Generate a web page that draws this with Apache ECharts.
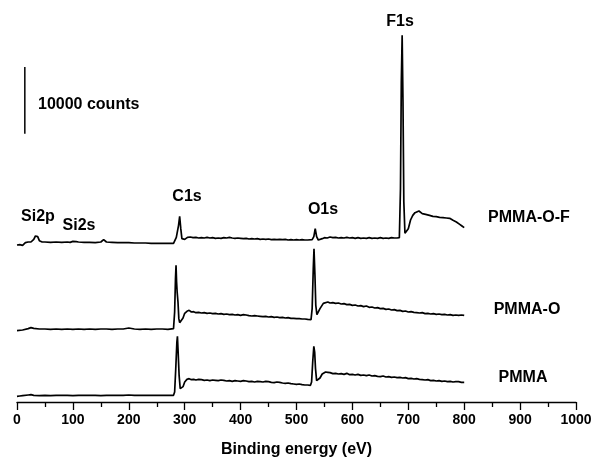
<!DOCTYPE html>
<html>
<head>
<meta charset="utf-8">
<script src="https://cdn.jsdelivr.net/npm/echarts@6/dist/echarts.min.js"></script>
<style>
  html, body { margin: 0; padding: 0; background: #fff; }
  #chart { width: 600px; height: 465px; }
</style>
</head>
<body>
<div id="chart"></div>
<script>
// spectra, offset as drawn: [binding energy (eV), counts]
const pmma = [
  [0, 850], [5, 900], [10, 950], [20, 1050], [25, 1100], [30, 1000], [40, 950], [50, 1000],
  [60, 970], [70, 1000], [80, 980], [90, 1000], [100, 970], [110, 1000], [120, 980], [130, 1000],
  [140, 990], [150, 970], [160, 1000], [170, 980], [180, 1000], [190, 990], [200, 1050], [210, 990],
  [220, 1000], [230, 980], [240, 1000], [250, 990], [260, 1000], [270, 980], [280, 1000], [282, 1500],
  [284, 5000], [286, 9000], [287, 9850], [288, 8000], [290, 4000], [292, 2000], [295, 1850],
  [297, 2300], [300, 3000], [304, 3400], [308, 3500], [312, 3350], [316, 3400],
  [320, 3300], [325, 3400], [330, 3350], [335, 3250], [340, 3300], [345, 3200], [350, 3300],
  [355, 3250], [360, 3200], [365, 3300], [370, 3250], [375, 3150], [380, 3200], [385, 3100],
  [390, 3200], [395, 3150], [400, 3100], [405, 3200], [410, 3150], [415, 3050], [420, 3100],
  [425, 3000], [430, 3100], [435, 3050], [440, 3000], [445, 3100], [450, 3050], [455, 2950],
  [460, 2900], [465, 3000], [470, 2950], [475, 2850], [480, 2800], [485, 2850], [490, 2750],
  [495, 2700], [500, 2650], [505, 2700], [510, 2600], [515, 2550], [520, 2550],
  [525, 2500], [527, 3000], [529, 6000], [531, 8350], [532.5, 7500], [534, 5000], [536, 3200],
  [539, 3000], [542, 3600], [546, 4200], [552, 4500], [556, 4450], [560, 4400], [565, 4250],
  [570, 4300], [575, 4200], [580, 4250], [585, 4150], [590, 4300], [595, 4100], [600, 4150],
  [605, 4050], [610, 4150], [615, 4000], [620, 4050], [625, 3950], [630, 4050], [635, 3900],
  [640, 3950], [645, 3850], [650, 3800], [655, 3900], [660, 3750], [665, 3800], [670, 3700],
  [675, 3750], [680, 3650], [685, 3700], [690, 3600], [695, 3650], [700, 3500], [705, 3550],
  [710, 3450], [715, 3500], [720, 3400], [725, 3350], [730, 3300], [735, 3350], [740, 3200],
  [745, 3250], [750, 3150], [755, 3200], [760, 3100], [765, 3150], [770, 3050], [775, 3100],
  [780, 3000], [785, 3050], [790, 3050], [795, 2950], [800, 2950]
]

const pmmaO = [
  [0, 10700], [10, 10800], [20, 11000], [25, 11150], [30, 11050], [40, 10950], [50, 10950],
  [60, 10900], [70, 10950], [80, 10900], [90, 10950], [100, 10900], [110, 10950], [120, 10900],
  [130, 10950], [140, 10900], [150, 10950], [160, 10950], [170, 10900], [180, 10950], [190, 10950],
  [200, 11100], [210, 10950], [220, 10900], [230, 10950], [240, 10900], [250, 10950], [260, 10950],
  [270, 10900], [280, 11000], [282, 13500], [283.5, 18500], [284.5, 20500], [285.5, 18000],
  [286.5, 16500], [288, 15000], [289.5, 12500], [291, 11900], [294, 11850], [297, 12600],
  [300, 13300], [304, 13600], [308, 13750], [312, 13500], [316, 13550], [320, 13400],
  [325, 13450], [330, 13350], [335, 13400], [340, 13300], [345, 13350], [350, 13250], [355, 13300],
  [360, 13200], [365, 13250], [370, 13150], [375, 13200], [380, 13100], [385, 13150], [390, 13050],
  [395, 13100], [400, 13000], [405, 13100], [410, 13050], [415, 12950], [420, 12900], [425, 12950],
  [430, 12900], [435, 12850], [440, 12800], [445, 12850], [450, 12750], [455, 12800], [460, 12700],
  [465, 12750], [470, 12650], [475, 12700], [480, 12600], [485, 12650], [490, 12550], [495, 12550],
  [500, 12500], [505, 12500], [510, 12450], [515, 12450], [520, 12400], [526, 12350],
  [528, 14000], [530, 20000], [531.3, 23000], [533, 19000], [534.5, 14500], [536.5, 13100],
  [538.5, 13000], [542, 14000], [548, 14800], [556, 15000], [560, 14850], [565, 14900],
  [570, 14800], [575, 14850], [580, 14700], [585, 14750], [590, 14600], [595, 14650], [600, 14500],
  [605, 14550], [610, 14400], [615, 14450], [620, 14300], [625, 14400], [630, 14200], [635, 14250],
  [640, 14100], [645, 14150], [650, 14000], [655, 14050], [660, 13900], [665, 13950], [670, 13800],
  [675, 13850], [680, 13700], [685, 13750], [690, 13600], [695, 13650], [700, 13500], [705, 13550],
  [710, 13450], [715, 13400], [720, 13350], [725, 13400], [730, 13250], [735, 13300], [740, 13200],
  [745, 13250], [750, 13150], [755, 13200], [760, 13100], [765, 13150], [770, 13050], [775, 13100],
  [780, 13000], [785, 13050], [790, 13000], [795, 13050], [800, 13000]
]

const pmmaOF = [
  [0, 23550], [5, 23600], [10, 23500], [15, 23900], [20, 24000], [25, 24000], [30, 24400],
  [33, 24900], [35, 25000], [37, 24800], [40, 24200], [45, 24000], [50, 24000], [60, 23950],
  [70, 24000], [80, 23950], [90, 24000], [95, 23950], [100, 24100], [103, 24350], [106, 24050],
  [110, 24000], [120, 23950], [130, 23950], [140, 23900], [150, 24000], [155, 24350], [160, 24000],
  [170, 23950], [180, 23900], [190, 23900], [200, 23900], [210, 23850], [220, 23850], [230, 23850],
  [240, 23800], [250, 23800], [260, 23800], [270, 23800], [280, 23800], [283, 24000], [285, 24700],
  [287, 24700], [289, 26500], [291, 27850], [293, 26000], [295, 24500], [297, 24250], [300, 24400],
  [305, 24700], [310, 24750], [315, 24650], [320, 24700], [325, 24600], [330, 24650], [335, 24600],
  [340, 24700], [345, 24600], [350, 24650], [355, 24550], [360, 24600], [365, 24550], [370, 24650],
  [375, 24600], [380, 24700], [385, 24600], [390, 24550], [395, 24600], [400, 24550], [405, 24500],
  [410, 24550], [415, 24450], [420, 24500], [425, 24450], [430, 24500], [435, 24400], [440, 24450],
  [445, 24400], [450, 24450], [455, 24350], [460, 24400], [465, 24350], [470, 24400], [475, 24350],
  [480, 24400], [485, 24300], [490, 24350], [495, 24300], [500, 24350], [505, 24300], [510, 24350],
  [515, 24300], [520, 24300], [528, 24350], [531, 24800], [533.5, 26000], [536, 24800], [539, 24300],
  [542, 24250], [546, 24500], [550, 24650], [555, 24600], [560, 24750], [565, 24650], [570, 24700],
  [575, 24600], [580, 24650], [585, 24600], [590, 24700], [595, 24600], [600, 24650], [605, 24550],
  [610, 24650], [615, 24550], [620, 24600], [625, 24550], [630, 24650], [635, 24550], [640, 24600],
  [645, 24550], [650, 24650], [655, 24550], [660, 24600], [665, 24550], [670, 24650], [675, 24600],
  [680, 24600], [684, 24650], [686, 32000], [687.5, 48000], [689, 55000],
  [690.5, 45000], [692, 30000], [694, 25300], [697, 25000], [700, 26000], [704, 27300], [708, 28000],
  [712, 28400], [715, 28300], [719, 28650], [722, 28350], [725, 28250], [728, 28050], [731, 28150],
  [734, 27900], [738, 28000], [741, 27800], [744, 27850], [747, 27650], [750, 27800], [753, 27600],
  [756, 27700], [759, 27500], [762, 27650], [765, 27450], [768, 27600], [771, 27400], [774, 27550],
  [777, 27300], [780, 27250], [783, 27050], [786, 27000], [789, 26800], [792, 26650], [796, 26400],
  [800, 26150]
]

// vertical scale bar: 10000 counts
const scaleBar = [[14, 40250], [14, 50250]]

const font = 'Liberation Sans, Arial, Helvetica, sans-serif'

const chart = echarts.init(document.getElementById('chart'))

function label (text, x, y, align) {
  return {
    type: 'text',
    x: x,
    y: y,
    style: {
      text: text,
      fill: '#000',
      font: 'bold 16px ' + font,
      align: align || 'center',
      verticalAlign: 'middle'
    }
  }
}

function spectrum (data) {
  return {
    type: 'line',
    data: data,
    showSymbol: false,
    lineStyle: { color: '#000', width: 1.7 },
    itemStyle: { color: '#000' }
  }
}

chart.setOption({
  backgroundColor: '#fff',
  animation: false,
  grid: { left: 17, right: 24, top: 22, bottom: 63 },
  xAxis: {
    type: 'value',
    min: 0,
    max: 1000,
    interval: 100,
    name: 'Binding energy (eV)',
    nameLocation: 'middle',
    nameGap: 40,
    nameTextStyle: { color: '#000', fontSize: 16, fontWeight: 'bold', fontFamily: font },
    axisLine: { show: true, lineStyle: { color: '#000', width: 1.3 } },
    axisTick: { show: true, length: 8, lineStyle: { color: '#000', width: 1.3 } },
    minorTick: { show: true, splitNumber: 2, length: 5, lineStyle: { color: '#000', width: 1.3 } },
    axisLabel: {
      color: '#000', fontSize: 14, fontWeight: 'bold', fontFamily: font, margin: 11,
      formatter: v => String(v)
    },
    splitLine: { show: false }
  },
  yAxis: {
    type: 'value',
    min: 0,
    max: 57000,
    show: false
  },
  series: [
    spectrum(pmmaOF),
    spectrum(pmmaO),
    spectrum(pmma),
    {
      type: 'line',
      data: scaleBar,
      showSymbol: false,
      lineStyle: { color: '#000', width: 1.5 }
    }
  ],
  graphic: [
    label('10000 counts', 38, 105, 'left'),
    label('F1s', 400, 22),
    label('C1s', 187, 197),
    label('O1s', 323, 210),
    label('Si2p', 38, 217),
    label('Si2s', 79, 226),
    label('PMMA-O-F', 529, 218),
    label('PMMA-O', 527, 310),
    label('PMMA', 523, 378)
  ]
})
</script>
</body>
</html>
